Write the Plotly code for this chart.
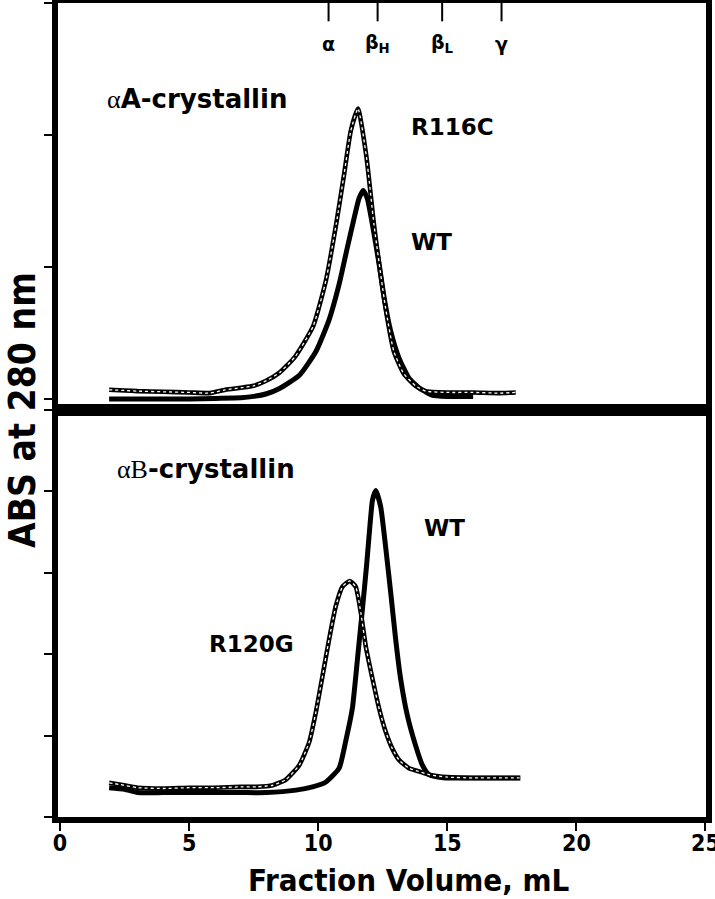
import plotly.graph_objects as go
from plotly.subplots import make_subplots

# top panel: alphaA-crystallin
A_MUT_X = [1.9, 2.5, 3.0, 4.0, 5.0, 5.8, 6.4, 7.0, 7.5, 8.0, 8.5, 9.1, 9.8, 10.3, 10.7, 11.0, 11.26, 11.54,
           11.87, 12.16, 12.6, 12.93, 13.32, 13.77, 14.16, 15.0, 16.0, 17.0, 17.65]
A_MUT_Y = [0.07, 0.065, 0.06, 0.055, 0.05, 0.045, 0.07, 0.085, 0.1, 0.14, 0.2, 0.32, 0.55, 0.9, 1.33, 1.70, 2.03, 2.2,
           1.83, 1.32, 0.70, 0.36, 0.19, 0.10, 0.06, 0.05, 0.05, 0.045, 0.05]
A_WT_X = [1.9, 3.0, 4.0, 5.0, 6.0, 7.0, 7.5, 8.0, 8.5, 9.27, 9.91, 10.42, 10.81, 11.13, 11.39, 11.58, 11.74,
          11.9, 12.1, 12.36, 12.55, 12.8, 13.13, 13.51, 13.9, 14.4, 15.0, 16.0]
A_WT_Y = [0.0, 0.0, 0.0, 0.0, 0.005, 0.01, 0.02, 0.04, 0.08, 0.18, 0.36, 0.6, 0.87, 1.15, 1.37, 1.52, 1.58,
          1.52, 1.32, 1.02, 0.77, 0.52, 0.31, 0.16, 0.086, 0.03, 0.02, 0.02]

# bottom panel: alphaB-crystallin
B_MUT_X = [1.9, 2.3, 3.0, 4.0, 5.0, 6.0, 7.0, 7.6, 8.24, 8.75, 9.27, 9.65, 9.91, 10.17, 10.42, 10.68, 10.94, 11.22,
           11.45, 11.65, 11.84, 12.1, 12.36, 12.61, 12.87, 13.13, 13.51, 13.9, 14.29, 15.0, 16.0, 17.0, 17.8]
B_MUT_Y = [0.42, 0.4, 0.36, 0.35, 0.36, 0.36, 0.37, 0.37, 0.39, 0.46, 0.64, 0.92, 1.29, 1.74, 2.18, 2.59, 2.83, 2.9,
           2.83, 2.51, 2.10, 1.70, 1.33, 1.05, 0.84, 0.70, 0.60, 0.56, 0.52, 0.49, 0.48, 0.48, 0.48]
B_WT_X = [1.9, 2.5, 3.0, 4.0, 5.0, 6.0, 7.0, 8.0, 9.14, 9.78, 10.3, 10.81, 11.07, 11.32, 11.52, 11.71, 11.87, 12.0,
          12.1, 12.23, 12.42, 12.61, 12.81, 13.0, 13.19, 13.45, 13.77, 14.03, 14.29, 14.93, 16.0, 17.0, 17.83]
B_WT_Y = [0.36, 0.34, 0.3, 0.3, 0.3, 0.3, 0.3, 0.3, 0.33, 0.37, 0.43, 0.6, 0.94, 1.33, 1.94, 2.55, 3.08, 3.57,
          3.89, 4.01, 3.81, 3.32, 2.75, 2.18, 1.70, 1.25, 0.88, 0.64, 0.52, 0.48, 0.48, 0.48, 0.48]

# elution markers along the top frame
MARKER_X = [10.4, 12.3, 14.8, 17.1]
MARKER_LABELS = ["α", "β<sub>H</sub>", "β<sub>L</sub>", "γ"]

X_TICKS = [0, 5, 10, 15, 20, 25]

BOLD = "DejaVu Sans"
NARROW = "Liberation Sans Narrow, DejaVu Sans Condensed, Liberation Sans, Arial"

fig = make_subplots(rows=2, cols=1, shared_xaxes=True, vertical_spacing=0)
SMOOTH = dict(shape="spline", smoothing=0.5)


def filled(x, y, row):
    fig.add_trace(go.Scatter(x=x, y=y, mode="lines", line=dict(color="black", width=5, **SMOOTH),
                             hoverinfo="skip"), row=row, col=1)


def hollow(x, y, row):
    # dense open circles in the original -> thick black line with a dotted white core
    fig.add_trace(go.Scatter(x=x, y=y, mode="lines", line=dict(color="black", width=4.6, **SMOOTH),
                             hoverinfo="skip"), row=row, col=1)
    fig.add_trace(go.Scatter(x=x, y=y, mode="lines", line=dict(color="white", width=1.3, dash="dot", **SMOOTH),
                             hoverinfo="skip"), row=row, col=1)


filled(A_WT_X, A_WT_Y, 1)
hollow(A_MUT_X, A_MUT_Y, 1)
filled(B_WT_X, B_WT_Y, 2)
hollow(B_MUT_X, B_MUT_Y, 2)

frame = dict(showline=True, linecolor="black", linewidth=6, mirror=True, showgrid=False, zeroline=False,
             automargin=False)
fig.update_xaxes(range=[-0.08, 25.02], **frame)
fig.update_xaxes(ticks="", showticklabels=False, row=1, col=1)
fig.update_xaxes(ticks="outside", ticklen=8, tickwidth=2, tickcolor="black", tickvals=X_TICKS,
                 ticklabeloverflow="allow", ticklabelstandoff=-8,
                 tickfont=dict(family=NARROW, size=23, color="black", weight="bold"), row=2, col=1)
fig.update_yaxes(ticks="outside", ticklen=8, tickwidth=2, tickcolor="black", showticklabels=False, **frame)
fig.update_yaxes(range=[-0.083, 3.0], dtick=1, tick0=0, row=1, col=1)
fig.update_yaxes(range=[0, 5], dtick=1, tick0=0, row=2, col=1)

for mx, lab in zip(MARKER_X, MARKER_LABELS):
    fig.add_shape(type="line", xref="x", yref="y domain", x0=mx, x1=mx, y0=1, y1=0.955,
                  line=dict(color="black", width=2))
    fig.add_annotation(x=mx, xref="x", y=0.9, yref="y domain", xanchor="center", yanchor="middle",
                       text=f"<b>{lab}</b>", showarrow=False, font=dict(family=BOLD, size=19, color="black"))

label_font = dict(family=BOLD, size=23, color="black")
big_font = dict(family=BOLD, size=26, color="black")


def label(x, y, text, font, ref=""):
    fig.add_annotation(x=x, y=y, xref="x" + ref, yref="y" + ref, xanchor="left", yanchor="middle",
                       showarrow=False, text=text, font=font)


label(1.74, 2.27, "<span style='font-family:Liberation Serif'>α</span><b>A-crystallin</b>", big_font)
label(13.5, 2.06, "<b>R116C</b>", label_font)
label(13.5, 1.19, "<b>WT</b>", label_font)
label(2.12, 4.28, "<span style='font-family:Liberation Serif'>αB</span><b>-crystallin</b>", big_font, "2")
label(14.0, 3.55, "<b>WT</b>", label_font, "2")
label(5.71, 2.12, "<b>R120G</b>", label_font, "2")

# axis titles
fig.add_annotation(x=0.5415, y=-0.078, xref="paper", yref="paper", xanchor="center", yanchor="middle",
                   showarrow=False, text="<b>Fraction Volume, mL</b>",
                   font=dict(family=NARROW, size=31, color="black"))
fig.add_annotation(x=-0.0554, y=0.5, xref="paper", yref="paper", xanchor="center", yanchor="middle",
                   showarrow=False, textangle=-90, text="<b>ABS at 280 nm</b>",
                   font=dict(family=NARROW, size=37, color="black"))

fig.update_layout(width=715, height=899, margin=dict(l=58, r=9, t=3, b=82), showlegend=False,
                  plot_bgcolor="white", paper_bgcolor="white")

# drop the browser's default 8px body margin so the figure sits at the page corner
fig.write_html("out.html", config={"displayModeBar": False},
               post_script="document.body.style.margin='0';")
